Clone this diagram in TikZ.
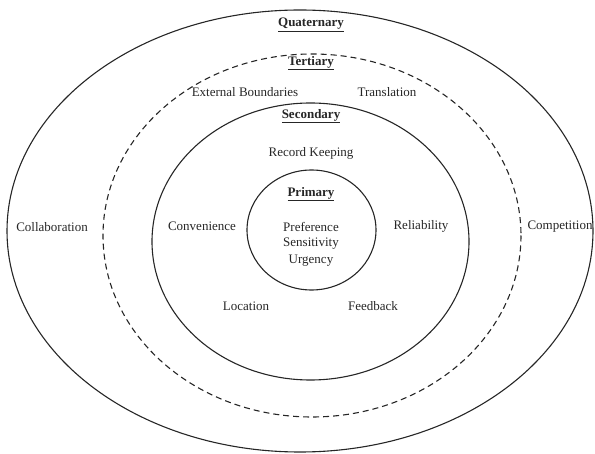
\documentclass[tikz,border=0pt]{standalone}
\usepackage{fontspec}
\setmainfont{Liberation Serif}
\begin{document}
\begin{tikzpicture}[x=1pt,y=-1pt,
  ring/.style={draw=black!85,line width=1.1pt},
  dring/.style={draw=black!85,line width=1.1pt,dash pattern=on 6pt off 4pt},
  lab/.style={font=\fontsize{13}{15}\selectfont,text=black!85,inner sep=1pt},
  head/.style={font=\fontsize{13}{15}\selectfont\bfseries,text=black!85,inner sep=1pt}]
\useasboundingbox (0,0) rectangle (595,454);
\draw[ring] (300,231) ellipse [x radius=293, y radius=221];
\draw[dring] (312,235.5) ellipse [x radius=209, y radius=181.5];
\draw[ring] (310.5,241.5) ellipse [x radius=158.5, y radius=138.5];
\draw[ring] (311.5,230) ellipse [x radius=64.5, y radius=60];
\node[head] (quat) at (311,25) {\underline{Quaternary}};
\node[head] (tert) at (311,63) {\underline{Tertiary}};
\node[head] (sec) at (311,116) {\underline{Secondary}};
\node[head] (prim) at (311,194) {\underline{Primary}};
\node[lab] (ext) at (245,92) {External Boundaries};
\node[lab] (trans) at (387,92) {Translation};
\node[lab] (rec) at (311,153) {Record Keeping};
\node[lab] (conv) at (202,226) {Convenience};
\node[lab] (rel) at (421,226) {Reliability};
\node[lab] (pref) at (311,227) {Preference};
\node[lab] (sens) at (311,244) {Sensitivity};
\node[lab] (urg) at (311,261) {Urgency};
\node[lab] (loc) at (246,306) {Location};
\node[lab] (feed) at (373,306) {Feedback};
\node[lab] (coll) at (52,227) {Collaboration};
\node[lab] (comp) at (560,227) {Competition};
\end{tikzpicture}
\end{document}
